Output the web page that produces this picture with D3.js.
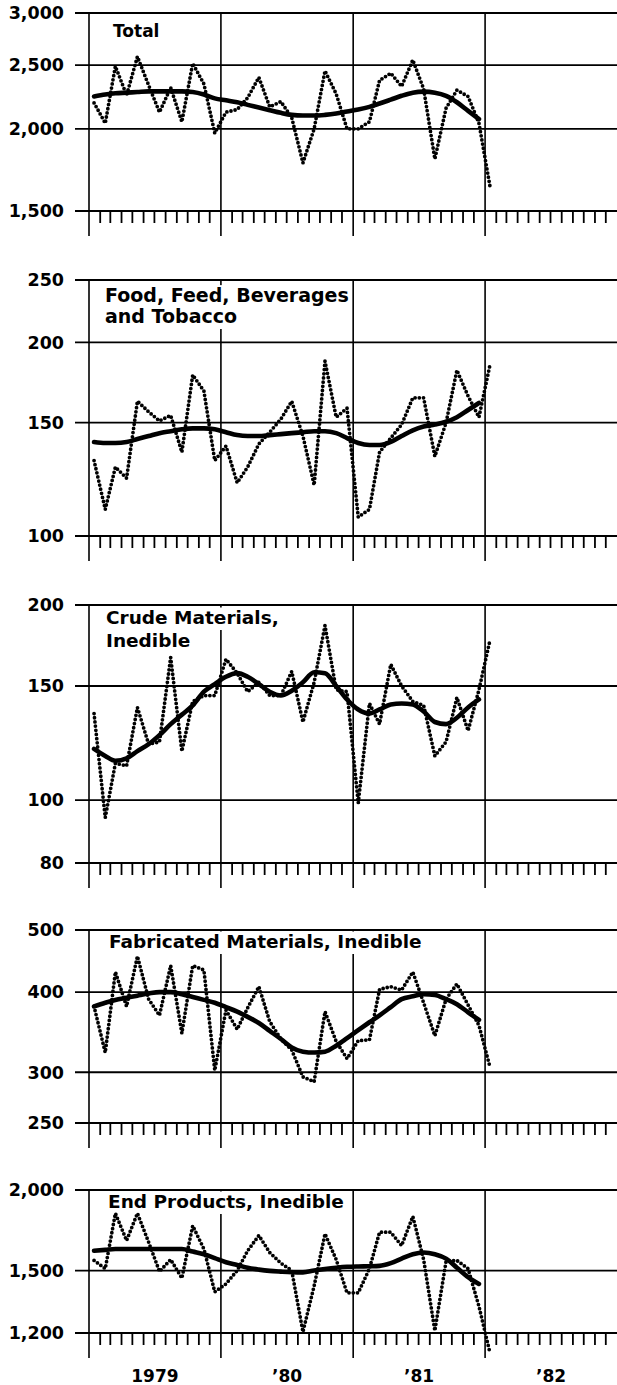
<!DOCTYPE html>
<html><head><meta charset="utf-8">
<script src="https://cdn.jsdelivr.net/npm/d3@7"></script>
<style>body{margin:0;background:#fff}svg{display:block;background:#fff}</style>
</head><body>
<svg id="chart" width="617" height="1385"></svg>
<script>
// ---- categories ----
const months = ["1979-01","1979-02","1979-03","1979-04","1979-05","1979-06","1979-07","1979-08","1979-09","1979-10","1979-11","1979-12",
  "1980-01","1980-02","1980-03","1980-04","1980-05","1980-06","1980-07","1980-08","1980-09","1980-10","1980-11","1980-12",
  "1981-01","1981-02","1981-03","1981-04","1981-05","1981-06","1981-07","1981-08","1981-09","1981-10","1981-11","1981-12",
  "1982-01"];
const yearStarts = ["1979-01-01","1980-01-01","1981-01-01","1982-01-01"];
const yearLabels = ["1979","\u201980","\u201981","\u201982"];

// ---- series values (monthly = dotted, trend = heavy line) ----
const totalMonthly = [2190,2040,2490,2250,2575,2330,2120,2310,2050,2515,2340,1970,
  2120,2140,2230,2395,2160,2200,2080,1775,2000,2450,2260,2000,
  2000,2050,2370,2430,2320,2545,2300,1800,2150,2290,2240,2040,1630];
const totalTrend = [2240,2255,2265,2270,2275,2280,2280,2280,2280,2275,2255,2225,
  2210,2195,2175,2155,2135,2115,2100,2095,2095,2100,2110,2125,
  2140,2160,2185,2215,2245,2270,2278,2270,2245,2195,2130,2070];

const foodMonthly = [131,110,128,123,162,156,151,154,135,178,168,131,
  138,121,128,139,145,152,162,143,120,187,153,158,
  107,110,135,142,149,164,164,133,150,181,165,153,185];
const foodTrend = [140,139.5,139.5,140,141.5,143,144.5,145.5,146.5,147,147,146.5,
  145,143.5,143,143,143.5,144,144.5,145,145.5,145.5,144.5,142,
  139.5,138.5,138.5,140,143,146,148,149,150.5,153,157,161];

const crudeMonthly = [136,94,114,113,139,122,123,166,119,142,145,145,
  165,157,147,152,145,145,158,132,152,186,148,147,
  99,141,131,162,150,142,140,117,123,144,128,148,177];
const crudeTrend = [120,117,115,116,119,122,126,131,135.5,140,147,151,
  155,157,155,151,147,145,147.5,152,157.5,157,150,143,
  138,136,138,140.5,141,140.5,137,132,131,134,139,143];

const fabMonthly = [380,322,430,380,455,390,368,440,345,440,433,302,
  375,350,378,408,360,338,325,295,290,373,335,315,
  336,337,404,408,403,430,385,342,390,412,382,355,305];
const fabTrend = [380,385,389,392,395,398,400,400,397,393,389,385,
  379,373,366,358,348,338,328,323,322,323,330,339,
  349,359,368,379,390,394,397,396,390,383,372,362];

const endMonthly = [1555,1510,1840,1670,1840,1660,1495,1560,1460,1760,1620,1390,
  1430,1500,1610,1700,1600,1540,1500,1205,1420,1710,1560,1385,
  1385,1510,1720,1720,1640,1820,1560,1210,1550,1555,1510,1320,1115];
const endTrend = [1610,1615,1620,1620,1620,1620,1620,1620,1620,1605,1590,1568,
  1545,1530,1515,1505,1498,1494,1491,1490,1500,1508,1515,1520,
  1522,1523,1525,1540,1565,1590,1600,1590,1565,1515,1465,1430];

// ---- tick labels ----
const totalTicks = [1500,2000,2500,3000];
const foodTicks = [100,150,200,250];
const crudeTicks = [80,100,150,200];
const fabTicks = [250,300,400,500];
const endTicks = [1200,1500,2000];

const totalTitle = ["Total"];
const foodTitle = ["Food, Feed, Beverages","and Tobacco"];
const crudeTitle = ["Crude Materials,","Inedible"];
const fabTitle = ["Fabricated Materials, Inedible"];
const endTitle = ["End Products, Inedible"];

// ---- layout ----
const W = 617, H = 1385;
const FONT = "'DejaVu Sans', 'Liberation Sans', sans-serif";
const panels = [
  {title: totalTitle, monthly: totalMonthly, trend: totalTrend, ticks: totalTicks, top: 13, bottom: 211, tx: 113, ty: [37], fs: 17},
  {title: foodTitle, monthly: foodMonthly, trend: foodTrend, ticks: foodTicks, top: 280, bottom: 536, tx: 105, ty: [302, 323], fs: 19},
  {title: crudeTitle, monthly: crudeMonthly, trend: crudeTrend, ticks: crudeTicks, top: 605, bottom: 863, tx: 106, ty: [624, 647], fs: 18.5},
  {title: fabTitle, monthly: fabMonthly, trend: fabTrend, ticks: fabTicks, top: 930, bottom: 1123, tx: 109, ty: [948], fs: 18.5},
  {title: endTitle, monthly: endMonthly, trend: endTrend, ticks: endTicks, top: 1190, bottom: 1333, tx: 108, ty: [1208], fs: 18.5}
];

const parseM = d3.timeParse("%Y-%m");
const parseD = d3.timeParse("%Y-%m-%d");
const midDates = months.map(m => d3.timeDay.offset(parseM(m), 14));
const yearDates = yearStarts.map(parseD);

const x = d3.scaleTime()
  .domain([new Date(1979, 0, 1), new Date(1983, 0, 1)])
  .range([89, 617]);

const monthTicks = d3.timeMonth.range(new Date(1979, 0, 1), new Date(1983, 0, 1))
  .filter(d => d.getMonth() !== 0);

const svg = d3.select("#chart");
svg.append("rect").attr("width", W).attr("height", H).attr("fill", "#fff");

const fmt = d3.format(",");

panels.forEach(p => {
  const y = d3.scaleLog().domain([d3.min(p.ticks), d3.max(p.ticks)]).range([p.bottom, p.top]);
  const g = svg.append("g");

  // horizontal grid lines
  g.selectAll("line.h").data(p.ticks).join("line")
    .attr("x1", 75).attr("x2", W)
    .attr("y1", d => y(d)).attr("y2", d => y(d))
    .attr("stroke", "#000").attr("stroke-width", 1.8);

  // year boundary lines
  g.selectAll("line.v").data(yearDates).join("line")
    .attr("x1", d => x(d)).attr("x2", d => x(d))
    .attr("y1", p.top).attr("y2", p.bottom + 25)
    .attr("stroke", "#000").attr("stroke-width", 1.6);

  // month ticks
  g.selectAll("line.m").data(monthTicks).join("line")
    .attr("x1", d => x(d)).attr("x2", d => x(d))
    .attr("y1", p.bottom).attr("y2", p.bottom + 12)
    .attr("stroke", "#000").attr("stroke-width", 1.8);

  // tick labels
  g.selectAll("text.tl").data(p.ticks).join("text")
    .attr("x", 64).attr("y", d => y(d))
    .attr("dy", "0.36em")
    .attr("text-anchor", "end")
    .attr("font-family", FONT).attr("font-weight", "bold").attr("font-size", 17.5)
    .attr("fill", "#000")
    .text(d => fmt(d));

  // title with white background
  p.title.forEach((line, i) => {
    const t = g.append("text")
      .attr("x", p.tx).attr("y", p.ty[i])
      .attr("font-family", FONT).attr("font-weight", "bold").attr("font-size", p.fs)
      .attr("fill", "#000")
      .text(line);
    const bb = t.node().getBBox();
    const cap = p.fs * 0.73;
    const top = Math.max(p.ty[i] - cap - 3, p.top + 1.2);
    g.insert("rect", () => t.node())
      .attr("x", p.tx - 3).attr("width", bb.width + 5)
      .attr("y", top)
      .attr("height", p.ty[i] + 6 - top)
      .attr("fill", "#fff");
  });

  // trend (heavy smooth line)
  const trendLine = d3.line()
    .x((d, i) => x(midDates[i]))
    .y(d => y(d))
    .curve(d3.curveMonotoneX);
  g.append("path").datum(p.trend)
    .attr("d", trendLine)
    .attr("fill", "none").attr("stroke", "#000")
    .attr("stroke-width", 4.6).attr("stroke-linejoin", "round").attr("stroke-linecap", "round");

  // monthly (dotted line)
  const monthLine = d3.line()
    .x((d, i) => x(midDates[i]))
    .y(d => y(d));
  g.append("path").datum(p.monthly)
    .attr("d", monthLine)
    .attr("fill", "none").attr("stroke", "#000")
    .attr("stroke-width", 3.8).attr("stroke-linecap", "round")
    .attr("stroke-dasharray", "0 4.2");
});

// year labels
svg.selectAll("text.yr").data(yearDates).join("text")
  .attr("x", d => (x(d3.timeYear.offset(d, 1)) + x(d)) / 2)
  .attr("y", 1382)
  .attr("text-anchor", "middle")
  .attr("font-family", FONT).attr("font-weight", "bold").attr("font-size", 17)
  .attr("fill", "#000")
  .text((d, i) => yearLabels[i]);
</script>
</body></html>
